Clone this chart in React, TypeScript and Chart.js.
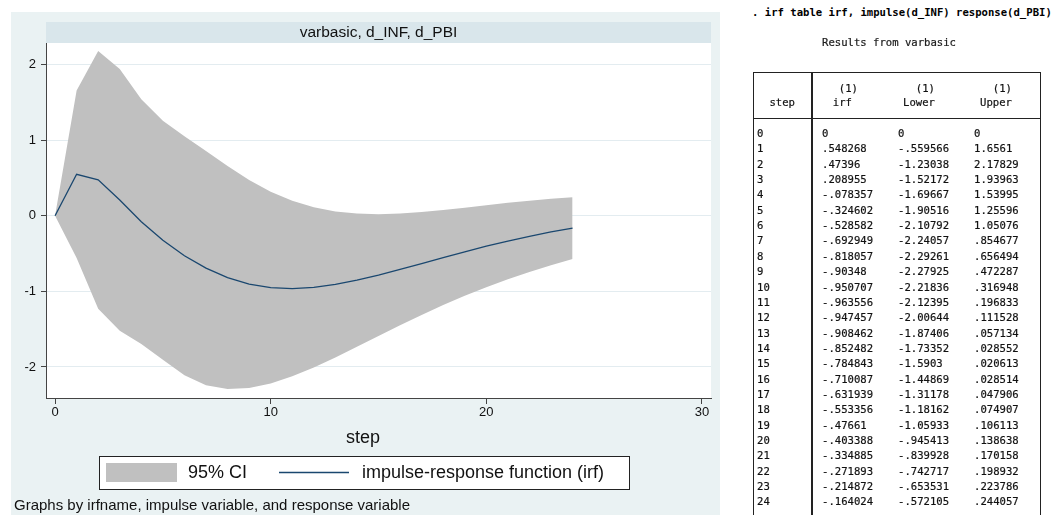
import React, { useEffect, useRef } from "react";
import { Chart, registerables } from "chart.js";

Chart.register(...registerables);

// ---------- data ----------
const steps = [0, 1, 2, 3, 4, 5, 6, 7, 8, 9, 10, 11, 12, 13, 14, 15, 16, 17, 18, 19, 20, 21, 22, 23, 24];
const irf = [0, 0.548268, 0.47396, 0.208955, -0.078357, -0.324602, -0.528582, -0.692949, -0.818057, -0.90348, -0.950707, -0.963556, -0.947457, -0.908462, -0.852482, -0.784843, -0.710087, -0.631939, -0.553356, -0.47661, -0.403388, -0.334885, -0.271893, -0.214872, -0.164024];
const lower = [0, -0.559566, -1.23038, -1.52172, -1.69667, -1.90516, -2.10792, -2.24057, -2.29261, -2.27925, -2.21836, -2.12395, -2.00644, -1.87406, -1.73352, -1.5903, -1.44869, -1.31178, -1.18162, -1.05933, -0.945413, -0.839928, -0.742717, -0.653531, -0.572105];
const upper = [0, 1.6561, 2.17829, 1.93963, 1.53995, 1.25596, 1.05076, 0.854677, 0.656494, 0.472287, 0.316948, 0.196833, 0.111528, 0.057134, 0.028552, 0.020613, 0.028514, 0.047906, 0.074907, 0.106113, 0.138638, 0.170158, 0.198932, 0.223786, 0.244057];
const xTicks = [0, 10, 20, 30];
const yTicks = [-2, -1, 0, 1, 2];

const stripTitle = "varbasic, d_INF, d_PBI";
const xTitle = "step";
const legendLabels = ["95% CI", "impulse-response function (irf)"];
const noteText = "Graphs by irfname, impulse variable, and response variable";
const commandText = ". irf table irf, impulse(d_INF) response(d_PBI)";
const resultsText = "Results from varbasic";
const headerTop = ["", "(1)", "(1)", "(1)"];
const headerBottom = ["step", "irf", "Lower", "Upper"];

// ---------- style ----------
const PANEL = "#eaf2f3";
const STRIP = "#d9e6eb";
const CI = "#c0c0c0";
const LINE = "#1a476f";
const AXIS = "#444444";
const SANS = "'Liberation Sans', Arial, sans-serif";
const MONO = "'DejaVu Sans Mono', monospace";

const fmt = (v: number): string => {
  if (v === 0) return "0";
  let s = v.toPrecision(6);
  if (s.includes(".")) s = s.replace(/0+$/, "").replace(/\.$/, "");
  s = s.replace(/^(-?)0\./, "$1.");
  return s;
};

const decoPlugin = {
  id: "deco",
  beforeDraw(chart: any) {
    const { ctx, chartArea: a, width, height } = chart;
    ctx.save();
    ctx.fillStyle = PANEL;
    ctx.fillRect(0, 0, width, height);
    ctx.fillStyle = "#ffffff";
    ctx.fillRect(a.left, a.top, a.right - a.left, a.bottom - a.top);
    ctx.fillStyle = STRIP;
    ctx.fillRect(a.left, 10, a.right - a.left, a.top - 10);
    ctx.fillStyle = "#111";
    ctx.font = `15.5px ${SANS}`;
    ctx.textAlign = "center";
    ctx.textBaseline = "middle";
    ctx.fillText(stripTitle, (a.left + a.right) / 2, 20.5);
    ctx.restore();
  },
  afterDraw(chart: any) {
    const { ctx } = chart;
    ctx.save();
    // x axis title
    ctx.fillStyle = "#111";
    ctx.font = `18px ${SANS}`;
    ctx.textAlign = "center";
    ctx.textBaseline = "middle";
    ctx.fillText(xTitle, 352, 426);
    // legend box
    ctx.fillStyle = "#ffffff";
    ctx.fillRect(88, 444, 530, 33);
    ctx.strokeStyle = "#222";
    ctx.lineWidth = 1;
    ctx.strokeRect(88.5, 444.5, 530, 33);
    ctx.fillStyle = CI;
    ctx.fillRect(95, 451, 71, 19);
    ctx.strokeStyle = LINE;
    ctx.lineWidth = 1.3;
    ctx.beginPath();
    ctx.moveTo(268, 460.5);
    ctx.lineTo(338, 460.5);
    ctx.stroke();
    ctx.fillStyle = "#111";
    ctx.font = `18px ${SANS}`;
    ctx.textAlign = "left";
    ctx.fillText(legendLabels[0], 177, 461);
    ctx.fillText(legendLabels[1], 351, 461);
    // note
    ctx.font = `15px ${SANS}`;
    ctx.fillText(noteText, 3, 494);
    ctx.restore();
  },
};

function IrfChart() {
  const ref = useRef<HTMLCanvasElement | null>(null);
  useEffect(() => {
    if (!ref.current) return;
    const chart = new Chart(ref.current, {
      type: "line",
      data: {
        datasets: [
          {
            label: "lower",
            data: steps.map((s, i) => ({ x: s, y: lower[i] })),
            borderColor: "rgba(0,0,0,0)",
            borderWidth: 0,
            pointRadius: 0,
            fill: false,
            order: 2,
          },
          {
            label: legendLabels[0],
            data: steps.map((s, i) => ({ x: s, y: upper[i] })),
            borderColor: "rgba(0,0,0,0)",
            borderWidth: 0,
            backgroundColor: CI,
            pointRadius: 0,
            fill: "-1",
            order: 1,
          },
          {
            label: legendLabels[1],
            data: steps.map((s, i) => ({ x: s, y: irf[i] })),
            borderColor: LINE,
            borderWidth: 1.3,
            pointRadius: 0,
            fill: false,
            order: 0,
          },
        ],
      },
      options: {
        responsive: false,
        animation: false,
        events: [],
        layout: { padding: { top: 31, left: 0, right: 9, bottom: 0 } },
        elements: { line: { tension: 0 } },
        plugins: { legend: { display: false }, tooltip: { enabled: false } },
        scales: {
          x: {
            type: "linear",
            min: -0.42,
            max: 30.42,
            afterBuildTicks: (s: any) => {
              s.ticks = xTicks.map((v) => ({ value: v }));
            },
            afterFit: (s: any) => {
              s.height = 117;
            },
            grid: { drawOnChartArea: false, drawTicks: true, tickLength: 6, tickColor: AXIS, tickWidth: 1 },
            border: { display: true, color: AXIS, width: 1 },
            ticks: { font: { family: SANS, size: 13 }, color: "#111", padding: 1, maxRotation: 0, autoSkip: false },
          },
          y: {
            type: "linear",
            min: -2.41,
            max: 2.284,
            afterBuildTicks: (s: any) => {
              s.ticks = yTicks.map((v) => ({ value: v }));
            },
            afterFit: (s: any) => {
              s.width = 35;
            },
            grid: { color: "#e3ecf0", lineWidth: 1, drawTicks: true, tickLength: 5, tickColor: AXIS, tickWidth: 1 },
            border: { display: true, color: AXIS, width: 1 },
            ticks: { font: { family: SANS, size: 13 }, color: "#111", padding: 5, autoSkip: false },
          },
        },
      },
      plugins: [decoPlugin],
    } as any);
    return () => chart.destroy();
  }, []);
  return (
    <canvas
      ref={ref}
      width={709}
      height={503}
      style={{ position: "absolute", left: 11, top: 12, width: 709, height: 503 }}
    />
  );
}

function ResultsTable() {
  const rowY = (i: number) => 133 + i * 15.35;
  const cols = [757, 822, 898, 974];
  const base: any = {
    position: "absolute",
    height: 16,
    lineHeight: "16px",
    fontFamily: MONO,
    fontSize: 10.6,
    color: "#111",
    whiteSpace: "pre",
    WebkitTextStroke: "0.2px #111",
  };
  const txt = (key: string, s: string, left: number, cy: number, extra: any = {}) => (
    <span key={key} style={{ ...base, left, top: cy - 8, ...extra }}>
      {s}
    </span>
  );
  const rightTxt = (key: string, s: string, right: number, cy: number) => (
    <span key={key} style={{ ...base, left: right - 100, width: 100, textAlign: "right", top: cy - 8 }}>
      {s}
    </span>
  );
  const els: any[] = [];
  els.push(txt("cmd", commandText, 752, 12, { fontWeight: "bold", color: "#000", WebkitTextStroke: "0px" }));
  els.push(txt("res", resultsText, 822, 42, { color: "#222" }));
  // header
  els.push(rightTxt("h1", headerTop[1], 858, 88));
  els.push(rightTxt("h2", headerTop[2], 935, 88));
  els.push(rightTxt("h3", headerTop[3], 1012, 88));
  els.push(rightTxt("b0", headerBottom[0], 795, 102));
  els.push(rightTxt("b1", headerBottom[1], 852, 102));
  els.push(rightTxt("b2", headerBottom[2], 935, 102));
  els.push(rightTxt("b3", headerBottom[3], 1012, 102));
  steps.forEach((s, i) => {
    const y = rowY(i);
    els.push(txt(`s${i}`, String(s), cols[0], y));
    els.push(txt(`i${i}`, fmt(irf[i]), cols[1], y));
    els.push(txt(`l${i}`, fmt(lower[i]), cols[2], y));
    els.push(txt(`u${i}`, fmt(upper[i]), cols[3], y));
  });
  return (
    <>
      <div
        style={{
          position: "absolute",
          left: 753,
          top: 72,
          width: 288,
          height: 470,
          border: "1.5px solid #222",
          boxSizing: "border-box",
        }}
      />
      <div style={{ position: "absolute", left: 811, top: 72, width: 1.5, height: 470, background: "#222" }} />
      <div style={{ position: "absolute", left: 753, top: 117.5, width: 288, height: 1.5, background: "#222" }} />
      {els}
    </>
  );
}

export default function App() {
  return (
    <div
      style={{
        position: "absolute",
        left: 0,
        top: 0,
        width: 1053,
        height: 515,
        overflow: "hidden",
        background: "#ffffff",
      }}
    >
      <IrfChart />
      <ResultsTable />
    </div>
  );
}
